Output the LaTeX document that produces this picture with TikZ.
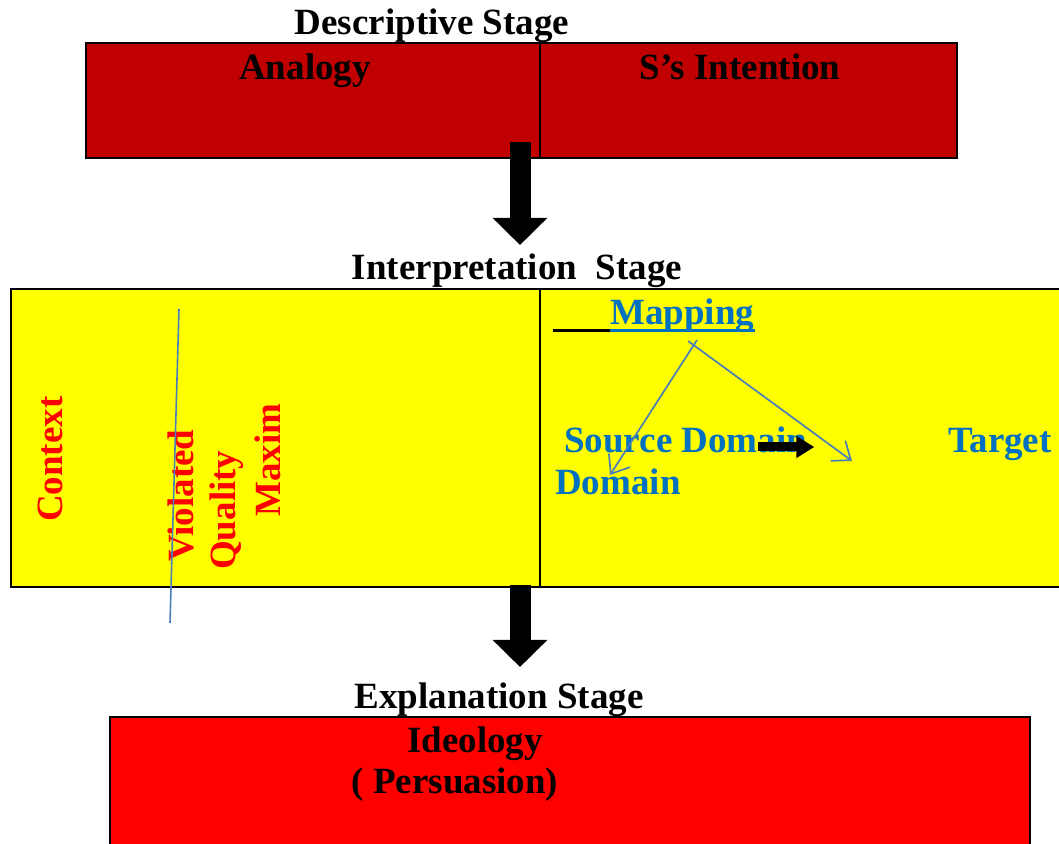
\documentclass[tikz,border=0pt]{standalone}
\usepackage{fontspec}
\setmainfont{Liberation Serif}
\usepackage{xcolor}
\usepackage{tikz}
\usetikzlibrary{arrows.meta,calc}
\definecolor{descfill}{HTML}{C00000}
\definecolor{interfill}{HTML}{FFFF00}
\definecolor{explfill}{HTML}{FF0000}
\definecolor{gricered}{HTML}{FF0000}
\definecolor{mapblue}{HTML}{0070C0}
\definecolor{lineblue}{HTML}{4A7EBB}

\begin{document}
\begin{tikzpicture}[
  x=1pt,
  y=1pt,
  font=\fontsize{37}{40}\selectfont\bfseries,
  stagehead/.style={
    anchor=base,
    inner sep=0pt
  },
  half/.style={
    rectangle,
    inner sep=0pt,
    outer sep=0pt
  },
  boxline/.style={
    draw=black,
    line width=2.2pt
  },
  divider/.style={
    draw=black,
    line width=1.2pt
  },
  bigarrow/.style={
    -{Triangle[length=27pt,width=53pt]},
    line width=21pt,
    draw=black
  },
  word/.style={
    anchor=base west,
    inner sep=0pt,
    text=mapblue
  },
  turned/.style={
    anchor=base west,
    inner sep=0pt,
    rotate=90,
    text=gricered
  },
  maparrow/.style={
    -{Straight Barb[length=16pt,width=25pt,line width=1.7pt]},
    line width=1.7pt,
    draw=lineblue
  }
]

\useasboundingbox (0,0) rectangle (1059,843);
\clip (0,0) rectangle (1059,843);

% ------------------------------------------------------------
% Descriptive stage
% ------------------------------------------------------------

\node[stagehead] (desctitle) at (432,808) {Descriptive Stage};

\node[half,fill=descfill,minimum width=454pt,minimum height=115pt]
  (analogybox) at (313,742.5) {};
\node[half,fill=descfill,minimum width=417pt,minimum height=115pt]
  (intentbox) at (748.5,742.5) {};
\draw[boxline] (analogybox.north west) rectangle (intentbox.south east);
\draw[divider] (analogybox.north east) -- (analogybox.south east);

\node[stagehead] (analogy) at (305,763) {Analogy};
\node[stagehead] (intention) at (740,763) {S’s Intention};

\draw[bigarrow]
  ($(analogybox.south east)+(-20,16)$) -- ($(analogybox.south east)+(-20,-87)$);

% ------------------------------------------------------------
% Interpretation stage
% ------------------------------------------------------------

\node[stagehead] (interptitle) at (517,563) {Interpretation\ \ Stage};

\node[half,fill=interfill,minimum width=529pt,minimum height=298pt]
  (contextbox) at (275.5,405) {};
\node[half,fill=interfill,minimum width=535pt,minimum height=298pt]
  (mappingbox) at (807.5,405) {};
\draw[boxline] (contextbox.north west) rectangle (mappingbox.south east);
\draw[divider] (contextbox.north east) -- (contextbox.south east);

% Gricean side, written upwards
\node[turned] (context) at (62,321) {Context};
\node[turned] (violated) at (193,281) {Violated};
\node[turned] (quality) at (235,273) {Quality};
\node[turned] (maxim) at (280,326) {Maxim};

\coordinate (strucktop) at (179,534);
\coordinate (struckbot) at (170,220);
\draw[draw=lineblue,line width=1.6pt] (strucktop) -- (struckbot);

% Mapping side
\node[word] (mapping) at (610,518) {Mapping};
\draw[draw=black,line width=3pt]
  ($(mapping.base west)+(-57,-6)$) -- ($(mapping.base west)+(0,-6)$);
\draw[draw=mapblue,line width=3pt]
  ($(mapping.base west)+(0,-6)$) -- ($(mapping.base east)+(1,-6)$);

\node[word] (source) at (564,390) {Source Domain};
\node[word] (target) at (948,390) {Target};
\node[word] (domain) at (555,348) {Domain};

\coordinate (splitleft) at (697,503);
\coordinate (splitright) at (688,502);
\coordinate (sourcetip) at (610,368);
\coordinate (targettip) at (852,382);
\draw[maparrow] (splitleft) -- (sourcetip);
\draw[maparrow] (splitright) -- (targettip);

\draw[-{Triangle[length=18pt,width=21pt]},line width=9pt,draw=black]
  ($(source.base east)+(-49,6)$) -- ++(56,0);

\draw[bigarrow]
  ($(contextbox.south east)+(-20,2)$) -- ($(contextbox.south east)+(-20,-80)$);

% ------------------------------------------------------------
% Explanation stage
% ------------------------------------------------------------

\node[stagehead] (expltitle) at (499,135) {Explanation Stage};

\node[half,boxline,fill=explfill,minimum width=920pt,minimum height=146pt]
  (ideologybox) at (570,53) {};

\node[stagehead] (ideology) at (475,91) {Ideology};
\node[stagehead] (persuasion) at (455,50) {( Persuasion)};

\end{tikzpicture}
\end{document}
